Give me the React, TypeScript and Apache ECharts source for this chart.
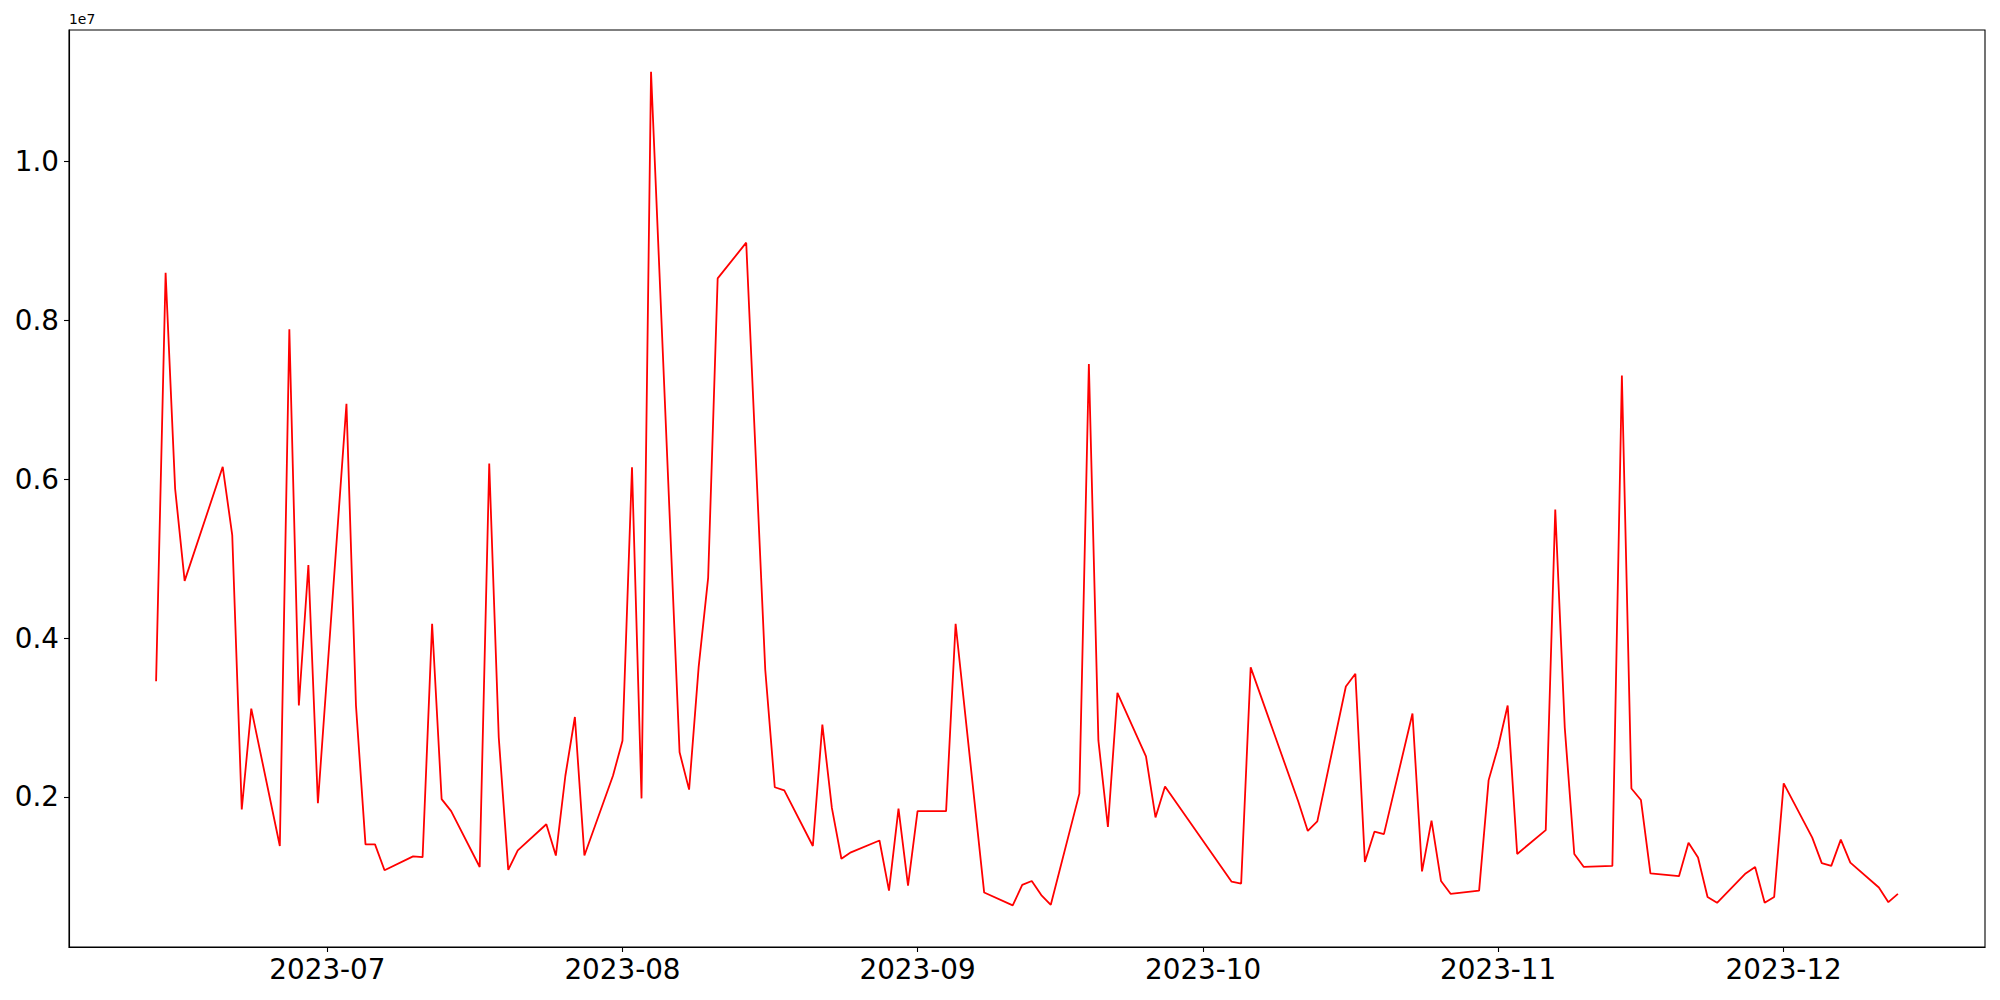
import React, { useEffect, useRef } from "react";
import * as echarts from "echarts";

const dates: string[] = [
  "2023-06-13", "2023-06-14", "2023-06-15", "2023-06-16", "2023-06-20", "2023-06-21", "2023-06-22", "2023-06-23",
  "2023-06-26", "2023-06-27", "2023-06-28", "2023-06-29", "2023-06-30",
  "2023-07-03", "2023-07-04", "2023-07-05", "2023-07-06", "2023-07-07",
  "2023-07-10", "2023-07-11", "2023-07-12", "2023-07-13", "2023-07-14",
  "2023-07-17", "2023-07-18", "2023-07-19", "2023-07-20", "2023-07-21",
  "2023-07-24", "2023-07-25", "2023-07-26", "2023-07-27", "2023-07-28",
  "2023-07-31", "2023-08-01", "2023-08-02", "2023-08-03", "2023-08-04",
  "2023-08-07", "2023-08-08", "2023-08-09", "2023-08-10", "2023-08-11",
  "2023-08-14", "2023-08-16", "2023-08-17", "2023-08-18",
  "2023-08-21", "2023-08-22", "2023-08-23", "2023-08-24", "2023-08-25",
  "2023-08-28", "2023-08-29", "2023-08-30", "2023-08-31", "2023-09-01",
  "2023-09-04", "2023-09-05", "2023-09-08",
  "2023-09-11", "2023-09-12", "2023-09-13", "2023-09-14", "2023-09-15",
  "2023-09-18", "2023-09-19", "2023-09-20", "2023-09-21", "2023-09-22",
  "2023-09-25", "2023-09-26", "2023-09-27",
  "2023-10-04", "2023-10-05", "2023-10-06",
  "2023-10-11", "2023-10-12", "2023-10-13",
  "2023-10-16", "2023-10-17", "2023-10-18", "2023-10-19", "2023-10-20",
  "2023-10-23", "2023-10-24", "2023-10-25", "2023-10-26", "2023-10-27",
  "2023-10-30", "2023-10-31", "2023-11-01", "2023-11-02", "2023-11-03",
  "2023-11-06", "2023-11-07", "2023-11-08", "2023-11-09", "2023-11-10",
  "2023-11-13", "2023-11-14", "2023-11-15", "2023-11-16", "2023-11-17",
  "2023-11-20", "2023-11-21", "2023-11-22", "2023-11-23", "2023-11-24",
  "2023-11-27", "2023-11-28", "2023-11-29", "2023-11-30", "2023-12-01",
  "2023-12-04", "2023-12-05", "2023-12-06", "2023-12-07", "2023-12-08",
  "2023-12-11", "2023-12-12", "2023-12-13",
];

const values: number[] = [
  3455000, 8600000, 5880000, 4720000, 6157000, 5297000, 1840000, 3110000,
  1380000, 7890000, 3150000, 4920000, 1920000,
  6950000, 3150000, 1400000, 1400000, 1075000,
  1250000, 1240000, 4180000, 1970000, 1820000,
  1116000, 6197000, 2750000, 1080000, 1325000,
  1654000, 1260000, 2265000, 3005000, 1260000,
  2265000, 2707000, 6150000, 1980000, 11134000,
  2560000, 2090000, 3630000, 4758000, 8530000,
  8980000, 3600000, 2120000, 2080000,
  1380000, 2910000, 1860000, 1220000, 1300000,
  1450000, 818000, 1850000, 882000, 1820000,
  1820000, 4180000, 794000,
  633000, 890000, 939000, 762000, 640000,
  2040000, 7450000, 2710000, 1620000, 3310000,
  2510000, 1740000, 2130000,
  930000, 907000, 3630000,
  1940000, 1570000, 1690000,
  3390000, 3550000, 1180000, 1560000, 1530000,
  3050000, 1060000, 1700000, 939000, 778000,
  818000, 2210000, 2630000, 3150000, 1280000,
  1580000, 5620000, 2870000, 1280000, 1116000,
  1130000, 7307000, 2105000, 1960000, 1035000,
  1000000, 1420000, 1236000, 738000, 665000,
  1035000, 1116000, 665000, 738000, 2170000,
  1485000, 1164000, 1130000, 1460000, 1170000,
  858000, 673000, 778000,
];

const monthTicks: string[] = ["2023-07-01", "2023-08-01", "2023-09-01", "2023-10-01", "2023-11-01", "2023-12-01"];
const yTicks: number[] = [2000000, 4000000, 6000000, 8000000, 10000000];
const offsetLabel = "1e7";

function parseDate(s: string): number {
  const [y, m, d] = s.split("-").map(Number);
  return new Date(y, m - 1, d).getTime();
}

export default function App() {
  const ref = useRef<HTMLDivElement>(null);
  useEffect(() => {
    if (!ref.current) return;
    const chart = echarts.init(ref.current, undefined, { renderer: "svg" });
    const times = dates.map(parseDate);
    const data = times.map((t, i) => [t, values[i]]);
    const tMin = Math.min(...times);
    const tMax = Math.max(...times);
    const tPad = (tMax - tMin) * 0.05;
    const vMin = Math.min(...values);
    const vMax = Math.max(...values);
    const vPad = (vMax - vMin) * 0.05;
    const font = "DejaVu Sans";
    const xTickVals = monthTicks.map(parseDate);
    chart.setOption({
      animation: false,
      backgroundColor: "#ffffff",
      grid: {
        left: 69,
        right: 15,
        top: 30,
        bottom: 53,
        show: true,
        borderColor: "#000000",
        borderWidth: 1.1,
        containLabel: false,
      },
      xAxis: {
        type: "value",
        min: tMin - tPad,
        max: tMax + tPad,
        scale: true,
        splitLine: { show: false },
        axisLine: { show: true, lineStyle: { color: "#000000", width: 1.1 } },
        axisTick: {
          show: true,
          length: 5,
          lineStyle: { color: "#000000", width: 1.1 },
          customValues: xTickVals,
        },
        axisLabel: {
          show: true,
          color: "#000000",
          fontFamily: font,
          fontSize: 27.8,
          margin: 8,
          hideOverlap: false,
          customValues: xTickVals,
          formatter: (v: number) => {
            const d = new Date(v);
            const m = d.getMonth() + 1;
            return `${d.getFullYear()}-${m < 10 ? "0" + m : m}`;
          },
        },
      },
      yAxis: {
        type: "value",
        min: vMin - vPad,
        max: vMax + vPad,
        scale: true,
        splitLine: { show: false },
        axisLine: { show: true, lineStyle: { color: "#000000", width: 1.1 } },
        axisTick: {
          show: true,
          length: 5,
          lineStyle: { color: "#000000", width: 1.1 },
          customValues: yTicks,
        },
        axisLabel: {
          show: true,
          color: "#000000",
          fontFamily: font,
          fontSize: 27.8,
          margin: 10,
          hideOverlap: false,
          customValues: yTicks,
          formatter: (v: number) => (v / 1e7).toFixed(1),
        },
      },
      graphic: [
        {
          type: "text",
          left: 69,
          top: 12,
          style: { text: offsetLabel, fontFamily: font, fontSize: 13.9, fill: "#000000" },
        },
      ],
      series: [
        {
          type: "line",
          data,
          showSymbol: false,
          symbol: "none",
          lineStyle: { color: "#ff0000", width: 1.8 },
          itemStyle: { color: "#ff0000" },
        },
      ],
    });
    return () => chart.dispose();
  }, []);
  return (
    <div
      ref={ref}
      style={{ position: "fixed", left: 0, top: 0, width: 2000, height: 1000, background: "#ffffff" }}
    />
  );
}
